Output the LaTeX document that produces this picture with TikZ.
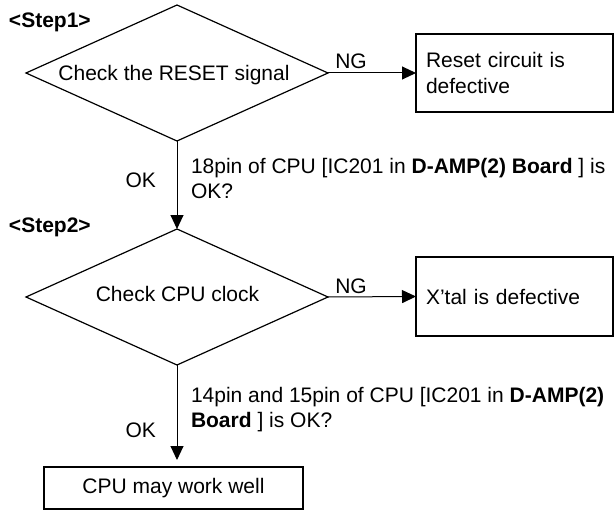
\documentclass[tikz,border=0pt]{standalone}
\usepackage{fontspec}
\setmainfont{Liberation Sans}
\usetikzlibrary{shapes.geometric,arrows.meta}
\begin{document}
\begin{tikzpicture}[x=1pt,y=-1pt,
  every node/.style={font=\fontsize{21}{25.5}\selectfont, inner sep=0pt, outer sep=0pt},
  decision/.style={draw, diamond, minimum width=302pt, minimum height=136pt, line width=1.2pt},
  resultbox/.style={draw, rectangle, line width=1.2pt, text width=177pt, align=left, inner xsep=10pt},
  endbox/.style={draw, rectangle, line width=1.2pt, minimum width=259pt, minimum height=42pt},
  arr/.style={-{Triangle[length=14pt,width=13pt]}, line width=1pt},
  steplabel/.style={anchor=base west, font=\fontsize{21}{25.5}\selectfont\bfseries},
  note/.style={anchor=north west, align=left}]
\useasboundingbox (0,0) rectangle (616,511);

% Step 1
\node[steplabel] (s1) at (9,28) {<Step1>};
\node[decision] (d1) at (177,73) {};
\node[anchor=base] (d1t) at (174,81) {Check the RESET signal};
\node[resultbox, minimum height=78pt] (b1) at (514.5,73) {Reset circuit is\\defective};
\draw[arr] (d1.east) -- (b1.west);
\node[anchor=base] (ng1) at (351,69) {NG};

% Step 2
\node[steplabel] (s2) at (9,232) {<Step2>};
\node[decision] (d2) at (177,297) {};
\node[anchor=base] (d2t) at (177.5,301.5) {Check CPU clock};
\node[resultbox, minimum height=79pt] (b2) at (514.5,296.5) {X’tal is defective};
\draw[arr] (d2.east) -- (b2.west);
\node[anchor=base] (ng2) at (351,293) {NG};

\draw[arr] (d1.south) -- (d2.north);
\node[anchor=base east] (ok1) at (156,187) {OK};
\node[note] (n1) at (191,158) {18pin of CPU [IC201 in \textbf{D-AMP(2) Board} ] is\\OK?};

% End
\node[endbox] (b3) at (173.5,488) {CPU may work well};
\draw[arr, shorten >=7pt] (d2.south) -- (d2.south |- b3.north);
\node[anchor=base east] (ok2) at (156,437) {OK};
\node[note] (n2) at (191,387) {14pin and 15pin of CPU [IC201 in \textbf{D-AMP(2)}\\\textbf{Board} ] is OK?};
\end{tikzpicture}
\end{document}
